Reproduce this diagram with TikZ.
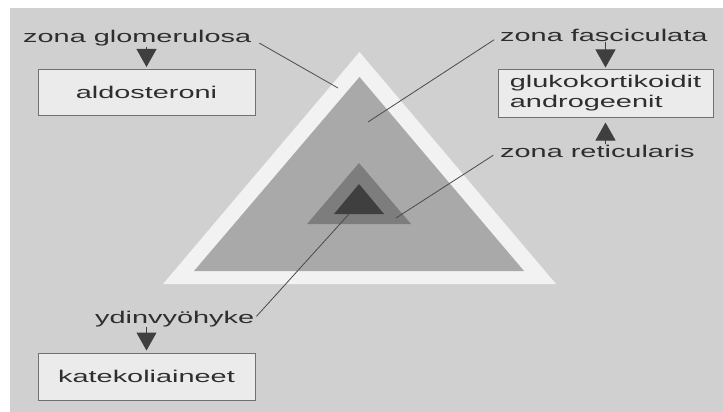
\documentclass[tikz,border=0pt]{standalone}
\usepackage{fontspec}
\setmainfont[FakeStretch=1.7]{Liberation Sans}
\usetikzlibrary{arrows.meta}
\definecolor{bgcol}{HTML}{D0D0D0}
\definecolor{bandcol}{HTML}{F2F2F2}
\definecolor{midcol}{HTML}{A9A9A9}
\definecolor{smallcol}{HTML}{7D7D7D}
\definecolor{darkcol}{HTML}{3F3F3F}
\definecolor{boxfill}{HTML}{EBEBEB}
\definecolor{boxline}{HTML}{707070}
\definecolor{txtcol}{HTML}{2E2E2E}
\definecolor{leadcol}{HTML}{4A4A4A}
\begin{document}
\begin{tikzpicture}[x=1pt,y=-1pt,
  lbl/.style={inner sep=0pt, text=txtcol, font=\fontsize{17}{20}\selectfont},
  outbox/.style={draw=boxline, line width=1pt, fill=boxfill, minimum width=217pt,
    minimum height=46pt, inner sep=0pt, text=txtcol, font=\fontsize{17}{20}\selectfont},
  arr/.style={draw=darkcol, line width=1pt, -{Triangle[width=20pt,length=18pt]}, shorten >=2pt},
  lead/.style={draw=leadcol, line width=0.8pt}]
\useasboundingbox (0,0) rectangle (723,412);
\fill[bgcol] (10,8) rectangle (723,412);
% triangles
\fill[bandcol] (163,284) -- (359.5,52) -- (556,284) -- cycle;
\fill[midcol] (194,271) -- (359.5,77) -- (524,271) -- cycle;
\fill[smallcol] (307,224) -- (359,163) -- (411,224) -- cycle;
\fill[darkcol] (334,214) -- (359,184) -- (384,214) -- cycle;
% end points of leader lines
\coordinate (glomP) at (338,88);
\coordinate (fascP) at (368,122);
\coordinate (reticP) at (396,218);
\coordinate (ydinP) at (349,214);
% labels
\node[lbl, anchor=base west] (glom) at (23,43) {zona glomerulosa};
\node[lbl, anchor=base west] (fasc) at (500,42) {zona fasciculata};
\node[lbl, anchor=base west] (retic) at (500,157) {zona reticularis};
\node[lbl, anchor=base west] (ydin) at (95,323) {ydinvyöhyke};
% boxes
\node[outbox] (aldo) at (146.5,92.5) {aldosteroni};
\node[outbox, minimum width=215pt, minimum height=47pt, align=left] (gluko) at (605.5,93.5) {glukokortikoidit\\androgeenit};
\node[outbox, minimum height=47pt] (kate) at (146.5,376.5) {katekoliaineet};
% arrows
\draw[arr] (glom.south -| aldo.north) -- (aldo.north);
\draw[arr] (fasc.south -| gluko.north) -- (gluko.north);
\draw[arr, shorten >=5pt] (retic.north -| gluko.south) -- (gluko.south);
\draw[arr] (ydin.south -| kate.north) -- (kate.north);
% leader lines
\draw[lead, shorten <=9pt] (glom.east) -- (glomP);
\draw[lead, shorten <=7pt] (fasc.west) -- (fascP);
\draw[lead, shorten <=8pt] (retic.west) -- (reticP);
\draw[lead, shorten <=3pt] (ydin.east) -- (ydinP);
\end{tikzpicture}
\end{document}
